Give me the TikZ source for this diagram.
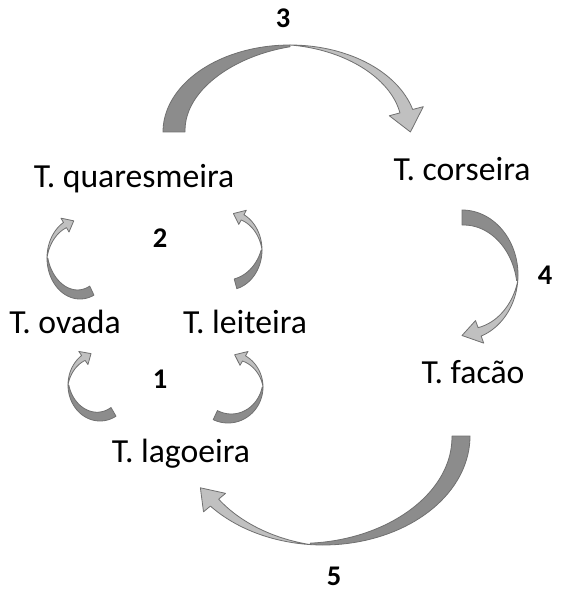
\documentclass[tikz,border=0pt]{standalone}
\usepackage{fontspec}
\setmainfont{Carlito}
\usetikzlibrary{positioning}

\definecolor{ribdark}{RGB}{140,140,140}
\definecolor{riblight}{RGB}{192,192,192}
\definecolor{ribline}{RGB}{112,112,112}

\tikzset{
    tree/.style={font=\fontsize{16.9}{20}\selectfont, anchor=base, inner sep=0pt},
    stagenum/.style={font=\bfseries\fontsize{14.3}{17}\selectfont, anchor=base, inner sep=0pt},
    ribback/.style={fill=ribdark, draw=ribline, line width=0.4pt, line join=round},
    ribfront/.style={fill=riblight, draw=ribline, line width=0.4pt, line join=round},
}

% curved ribbon arrow: centre x, centre y, radius x, radius y,
% tail angle, twist angle, neck angle, tip angle, width
\newcommand{\ribbon}[9]{%
    \filldraw[ribback] plot[domain=#5:#6] ({#1+(#3+#9)*cos(\x)},{#2+(#4+#9)*sin(\x)})
        -- plot[domain=#6:#5] ({#1+(#3+0.92*#9*((\x-(#5))/((#6)-(#5)))^1.6)*cos(\x)},{#2+(#4+0.92*#9*((\x-(#5))/((#6)-(#5)))^1.6)*sin(\x)}) -- cycle;
    \filldraw[ribfront] plot[domain=#6:#7] ({#1+(#3+#9)*cos(\x)},{#2+(#4+#9)*sin(\x)})
        -- ({#1+(#3+1.5*#9)*cos(#7)},{#2+(#4+1.5*#9)*sin(#7)})
        -- ({#1+(#3+0.7*#9)*cos(#8)},{#2+(#4+0.7*#9)*sin(#8)})
        -- ({#1+(#3-0.1*#9)*cos(#7)},{#2+(#4-0.1*#9)*sin(#7)})
        -- plot[domain=#7:#6] ({#1+(#3+#9-0.6*#9*(\x-(#6))/((#7)-(#6)))*cos(\x)},{#2+(#4+#9-0.6*#9*(\x-(#6))/((#7)-(#6)))*sin(\x)}) -- cycle;
}

\begin{document}
\begin{tikzpicture}[x=0.5bp, y=-0.5bp, samples=40]
    \useasboundingbox (0,0) rectangle (568,592);

    % the trees
    \node [tree] (quaresmeira) at (134,187) {T. quaresmeira};
    \node [tree] (corseira) at (462,180) {T. corseira};
    \node [tree] (ovada) at (65,333) {T. ovada};
    \node [tree] (leiteira) at (245,333) {T. leiteira};
    \node [tree] (facao) at (473,383) {T. facão};
    \node [tree] (lagoeira) at (181,462) {T. lagoeira};

    % the stages
    \node [stagenum] (n1) at (160,388) {1};
    \node [stagenum] (n2) at (160,247) {2};
    \node [stagenum] (n3) at (283,28) {3};
    \node [stagenum] (n4) at (545,284) {4};
    \node [stagenum] (n5) at (334,585) {5};

    % big arrows
    \ribbon{290}{132}{105}{65}{180}{270}{345}{360}{22}
    \ribbon{462}{275}{41}{50}{-90}{5}{70}{90}{15}
    \ribbon{323}{436}{129}{91}{0}{95}{140}{150}{18}

    % small arrows
    \ribbon{80}{258}{23}{31}{65}{180}{240}{258}{10}
    \ribbon{228}{250}{24}{30}{75}{0}{-62}{-80}{10}
    \ribbon{100}{385}{22}{26}{60}{180}{235}{252}{10}
    \ribbon{228}{387}{25}{26}{115}{0}{-60}{-78}{10}
\end{tikzpicture}
\end{document}
